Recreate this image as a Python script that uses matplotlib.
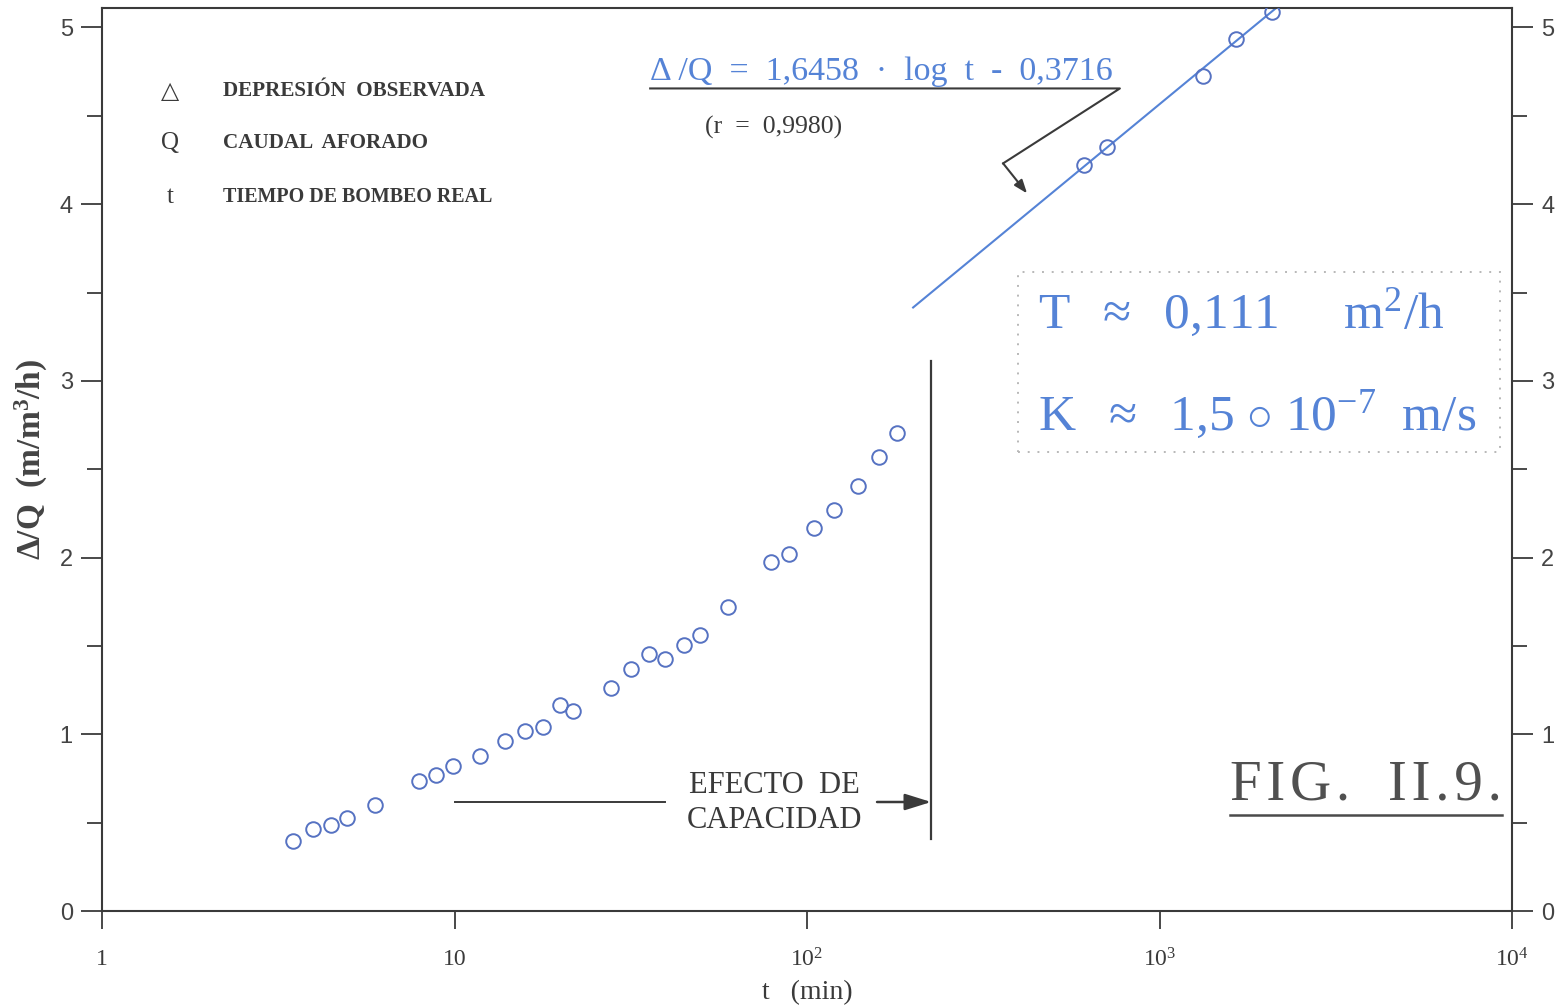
import numpy as np
import matplotlib
matplotlib.use("Agg")
import matplotlib.pyplot as plt
from matplotlib.patches import Rectangle

# ---- data -------------------------------------------------------------
t_min = [3.48, 3.97, 4.46, 4.95, 5.95, 7.93, 8.86, 9.9, 11.8, 13.9,
         15.85, 17.8, 19.9, 21.7, 27.8, 31.6, 35.6, 39.5, 44.8, 49.7,
         59.7, 79.1, 88.9, 104.7, 119.3, 139.6, 160.0, 180.0,
         611.0, 710.0, 1328.0, 1648.0, 2085.0]
dq = [0.396, 0.464, 0.486, 0.526, 0.600, 0.735, 0.769, 0.820, 0.877, 0.962,
      1.018, 1.040, 1.165, 1.131, 1.261, 1.369, 1.454, 1.425, 1.505, 1.561,
      1.719, 1.974, 2.019, 2.166, 2.268, 2.404, 2.568, 2.704,
      4.219, 4.321, 4.723, 4.932, 5.085]

# straight-line fit  dQ = a*log t + b
fit_a = 1.6458
fit_b = -0.3716
fit_r = 0.9980
fit_range = [200.0, 2150.0]

# end of well-storage effect
t_capacity = 225.0

x_ticks = [1, 10, 100, 1000, 10000]
x_ticklabels = ["1", "10", r"$\mathregular{10^{2}}$", r"$\mathregular{10^{3}}$",
                r"$\mathregular{10^{4}}$"]
y_ticks = [0, 1, 2, 3, 4, 5]

# ---- style ------------------------------------------------------------
plt.rcParams["mathtext.fontset"] = "custom"
plt.rcParams["mathtext.rm"] = "Liberation Serif"
plt.rcParams["mathtext.it"] = "Liberation Serif:italic"
plt.rcParams["mathtext.bf"] = "Liberation Serif:bold"

INK = "#3a3a3a"
BLUE = "#5583d6"
MARK = "#5672c2"
SERIF = ["Liberation Serif", "DejaVu Serif", "DejaVu Sans"]
SANS = ["Liberation Sans", "DejaVu Sans"]
HS = "\u200a"  # hair space for letter spacing

fig = plt.figure(figsize=(15.62, 10.05), dpi=100)
ax = fig.add_axes([0.0653, 0.0935, 0.9027, 0.8985])

ax.set_xscale("log")
ax.set_xlim(1, 1e4)
ax.set_ylim(0, 5.11)

for s in ax.spines.values():
    s.set_color(INK)
    s.set_linewidth(1.5)

ax.set_xticks(x_ticks)
ax.set_xticklabels(x_ticklabels, fontfamily=SERIF, fontsize=17, color=INK)
ax.xaxis.set_minor_locator(matplotlib.ticker.NullLocator())
ax.tick_params(axis="x", which="major", direction="out", length=13, width=1.3,
               color=INK, pad=14)

ax.set_yticks(y_ticks)
ax.set_yticks(np.arange(0.5, 5.0, 1.0), minor=True)
ax.tick_params(axis="y", which="major", direction="out", length=15, width=1.3,
               color=INK, left=True, right=True, labelleft=True, labelright=True,
               labelsize=17, labelcolor="#444444", pad=6)
ax.tick_params(axis="y", which="minor", direction="out", length=11, width=1.3,
               color=INK, left=True, right=True)
for lab in ax.get_yticklabels():
    lab.set_fontfamily(SANS)

ax.set_xlabel("t   (min)", fontfamily=SERIF, fontsize=20, color=INK, labelpad=6)
ax.set_ylabel("Δ/Q  (m/m$\\mathregular{^3}$/h)", fontfamily=SERIF, fontsize=24,
              fontweight="bold", color="#444444", labelpad=7)

# ---- observations -----------------------------------------------------
ax.plot(t_min, dq, linestyle="none", marker="o", markersize=10.5,
        markerfacecolor="none", markeredgecolor=MARK, markeredgewidth=1.4,
        zorder=3)

# fitted straight line
tf = np.array(fit_range)
ax.plot(tf, fit_a * np.log10(tf) + fit_b, color=BLUE, lw=1.5, zorder=2)

# well-storage (capacity) effect marker
ax.plot([t_capacity, t_capacity], [0.41, 3.11], color=INK, lw=1.6)
ax.plot([10, 39.5], [0.617, 0.617], color=INK, lw=1.4)
ax.annotate("", xy=(t_capacity, 0.617), xytext=(158, 0.617),
            arrowprops=dict(arrowstyle="-|>,head_length=1.6,head_width=0.5",
                            color=INK, lw=1.8, shrinkA=0, shrinkB=0))
ax.text(0.4766, 0.1196, "EFECTO  DE\nCAPACIDAD", transform=ax.transAxes,
        ha="center", va="center", fontfamily=SERIF, fontsize=22, color=INK,
        linespacing=1.3)

# ---- legend of symbols ------------------------------------------------
sym = ["△", "Q", "t"]
desc = ["DEPRESIÓN  OBSERVADA", "CAUDAL  AFORADO", "TIEMPO DE BOMBEO REAL"]
desc_size = [15.2, 15.2, 14.4]
rows = [0.908, 0.850, 0.791]
for s_, d_, fs_, y_ in zip(sym, desc, desc_size, rows):
    ax.text(0.0482, y_, s_, transform=ax.transAxes, ha="center", va="center",
            fontfamily=["DejaVu Sans"] if s_ == "△" else SERIF,
            fontsize=17 if s_ == "△" else 18, color=INK)
    ax.text(0.0858, y_, d_, transform=ax.transAxes, ha="left", va="center",
            fontfamily=SERIF, fontsize=fs_, fontweight="bold", color=INK)

# ---- regression equation ---------------------------------------------
eq = ("Δ /Q  =  " + f"{fit_a:.4f}".replace(".", ",") + "  ·  log  t  -  "
      + f"{abs(fit_b):.4f}".replace(".", ","))
ax.text(0.3887, 0.929, eq, transform=ax.transAxes, ha="left", va="center",
        fontfamily=SERIF, fontsize=24.5, color=BLUE)
ax.text(0.4277, 0.868, "(r  =  " + f"{fit_r:.4f}".replace(".", ",") + ")",
        transform=ax.transAxes, ha="left", va="center", fontfamily=SERIF,
        fontsize=18.5, color=INK)
ax.plot([35.9, 772, 360], [4.655, 4.655, 4.231], color=INK, lw=1.5)
ax.annotate("", xy=(421, 4.061), xytext=(360, 4.231),
            arrowprops=dict(arrowstyle="-|>,head_length=0.8,head_width=0.3",
                            color=INK, lw=1.5, shrinkA=0, shrinkB=0))

# ---- hydraulic parameters box -----------------------------------------
ax.add_patch(Rectangle((0.6496, 0.5083), 0.3419, 0.1993, transform=ax.transAxes,
                       fill=False, edgecolor="#b8b8b8", lw=1.4,
                       linestyle=(0, (1, 4))))
ax.text(0.6638, 0.662, r"T  $\approx$  0,111     m$^{2}$/h", transform=ax.transAxes,
        ha="left", va="center", fontfamily=SERIF, fontsize=37, color=BLUE)
ax.text(0.6638, 0.549, r"K  $\approx$  1,5 $\circ$ 10$^{-7}$  m/s",
        transform=ax.transAxes, ha="left", va="center", fontfamily=SERIF,
        fontsize=37, color=BLUE)

# ---- figure tag -------------------------------------------------------
ax.text(0.80, 0.1395, HS.join("FIG."), transform=ax.transAxes, ha="left",
        va="center", fontfamily=SERIF, fontsize=41, color="#505050")
ax.text(0.912, 0.1395, HS.join("II.9."), transform=ax.transAxes, ha="left",
        va="center", fontfamily=SERIF, fontsize=41, color="#505050")
ax.plot([0.80, 0.9929], [0.1063, 0.1063], transform=ax.transAxes,
        color="#4a4a4a", lw=1.8, clip_on=False)

fig.savefig("out.png", dpi=100)
